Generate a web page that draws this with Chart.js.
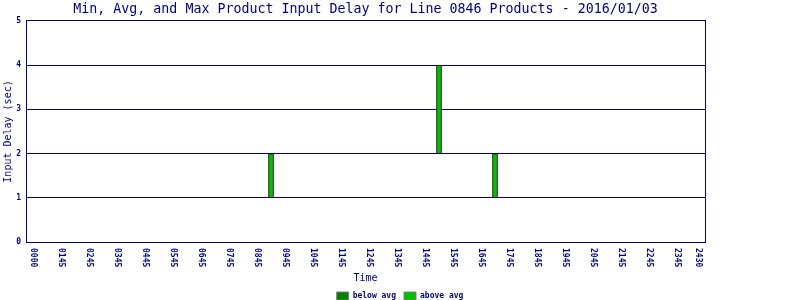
<!DOCTYPE html>
<html>
<head>
<meta charset="utf-8">
<script src="https://cdn.jsdelivr.net/npm/chart.js@4/dist/chart.umd.min.js"></script>
<style>
  html, body { margin: 0; padding: 0; background: #fff; }
  #wrap { width: 800px; height: 300px; }
</style>
</head>
<body>
<div id="wrap"><canvas id="chart" width="800" height="300"></canvas></div>
<script>
// bars: product slot start time (minutes past midnight) and delays in sec
const slotMinutes = [555, 915, 1035];
const minDelay = [1, 2, 1];
const avgDelay = [1, 2, 1];
const maxDelay = [2, 4, 2];

// x tick labels and where they sit on the minute scale
const tickLabels = ['0000', '0145', '0245', '0345', '0445', '0545', '0645', '0745', '0845',
    '0945', '1045', '1145', '1245', '1345', '1445', '1545', '1645', '1745', '1845',
    '1945', '2045', '2145', '2245', '2345', '2430'];
const tickMinutes = [45, 105, 165, 225, 285, 345, 405, 465, 525, 585, 645, 705, 765, 825,
    885, 945, 1005, 1065, 1125, 1185, 1245, 1305, 1365, 1425, 1470];

const NAVY = '#000080';
const MONO = "'DejaVu Sans Mono', monospace";

const belowData = slotMinutes.map((m, i) => ({ x: m, y: avgDelay[i] > minDelay[i] ? [minDelay[i], avgDelay[i]] : null }));
const aboveData = slotMinutes.map((m, i) => ({ x: m, y: [avgDelay[i], maxDelay[i]] }));

// draw the x tick labels turned clockwise, like the original
const xLabels = {
    id: 'xLabels',
    afterDraw(chart) {
        const ctx = chart.ctx;
        const xs = chart.scales.x;
        ctx.save();
        ctx.font = 'bold 8px ' + MONO;
        ctx.fillStyle = NAVY;
        ctx.textAlign = 'left';
        ctx.textBaseline = 'middle';
        tickLabels.forEach((lbl, i) => {
            const px = xs.getPixelForValue(tickMinutes[i]);
            ctx.save();
            ctx.translate(px, chart.chartArea.bottom + 6);
            ctx.rotate(Math.PI / 2);
            ctx.fillText(lbl, 0, 0);
            ctx.restore();
        });
        ctx.restore();
    }
};

new Chart(document.getElementById('chart').getContext('2d'), {
    type: 'bar',
    data: {
        datasets: [{
            label: 'below avg',
            data: belowData,
            backgroundColor: '#008000',
            borderColor: '#000000',
            borderWidth: 1,
            borderSkipped: false,
            barThickness: 5
        }, {
            label: 'above avg',
            data: aboveData,
            backgroundColor: '#00c000',
            borderColor: '#000000',
            borderWidth: 1,
            borderSkipped: false,
            barThickness: 5
        }]
    },
    options: {
        responsive: false,
        animation: false,
        grouped: false,
        layout: { padding: { left: 0, right: 0, top: 0, bottom: -10 } },
        plugins: {
            tooltip: { enabled: false },
            title: {
                display: true,
                fullSize: false,
                text: 'Min, Avg, and Max Product Input Delay for Line 0846 Products - 2016/01/03',
                color: NAVY,
                font: { family: MONO, size: 13.3, weight: 'normal', lineHeight: 1.2 },
                padding: { top: 2, bottom: 3 }
            },
            legend: {
                position: 'bottom',
                labels: {
                    font: { family: MONO, size: 8, weight: 'bold' },
                    color: NAVY,
                    boxWidth: 12,
                    boxHeight: 8,
                    padding: 8,
                    generateLabels(chart) {
                        return Chart.defaults.plugins.legend.labels.generateLabels(chart).map(l => {
                            l.strokeStyle = '#808080';
                            l.lineWidth = 1;
                            return l;
                        });
                    }
                }
            }
        },
        scales: {
            x: {
                type: 'linear',
                offset: false,
                min: 30,
                max: 1485,
                grid: { display: false },
                border: { color: NAVY, width: 1 },
                ticks: { display: false },
                title: {
                    display: true,
                    text: 'Time',
                    color: NAVY,
                    font: { family: MONO, size: 10 },
                    padding: { top: 0, bottom: 0 }
                },
                afterFit(scale) { scale.height = 42; }
            },
            y: {
                min: 0,
                max: 5,
                grid: { color: NAVY, lineWidth: 1, drawTicks: false },
                border: { color: NAVY, width: 1 },
                ticks: {
                    stepSize: 1,
                    color: NAVY,
                    padding: 5,
                    font: { family: MONO, size: 8, weight: 'bold' }
                },
                title: {
                    display: true,
                    text: 'Input Delay (sec)',
                    color: NAVY,
                    font: { family: MONO, size: 10 },
                    padding: { top: 2, bottom: 0 }
                },
                afterFit(scale) { scale.width = 26; }
            },
            y2: {
                position: 'right',
                grid: { display: false, drawTicks: false },
                border: { color: NAVY, width: 1 },
                ticks: { display: false },
                afterFit(scale) { scale.width = 95; }
            }
        }
    },
    plugins: [xLabels]
});
</script>
</body>
</html>
